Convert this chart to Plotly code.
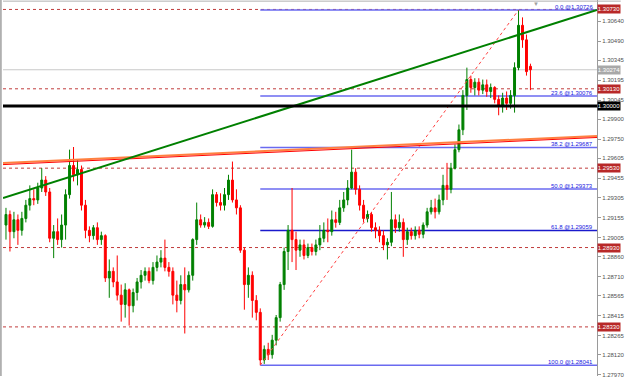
import plotly.graph_objects as go

# ---------------- data ----------------
opens = [1.2910, 1.2918, 1.2905, 1.2914, 1.2906, 1.2915, 1.2925, 1.2930, 1.2929, 1.2938,
         1.2944, 1.2935, 1.2900, 1.2905, 1.2899, 1.2910, 1.2933, 1.2955, 1.2948, 1.2952,
         1.2925, 1.2906, 1.2902, 1.2908, 1.2899, 1.2902, 1.2870, 1.2875, 1.2867, 1.2857,
         1.2850, 1.2861, 1.2849, 1.2859, 1.2867, 1.2872, 1.2875, 1.2868, 1.2878, 1.2882,
         1.2885, 1.2878, 1.2875, 1.2857, 1.2853, 1.2865, 1.2861, 1.2872, 1.2899, 1.2914,
         1.2910, 1.2912, 1.2909, 1.2933, 1.2927, 1.2925, 1.2933, 1.2944, 1.2929, 1.2923,
         1.2891, 1.2865, 1.2872, 1.2853, 1.2844, 1.2808, 1.2816, 1.2812, 1.2823, 1.2840,
         1.2865, 1.2890, 1.2906, 1.2899, 1.2891, 1.2895, 1.2887, 1.2893, 1.2890, 1.2895,
         1.2900, 1.2906, 1.2905, 1.2914, 1.2912, 1.2923, 1.2929, 1.2938, 1.2950, 1.2937,
         1.2925, 1.2915, 1.2918, 1.2908, 1.2906, 1.2902, 1.2895, 1.2897, 1.2914, 1.2908,
         1.2912, 1.2899, 1.2905, 1.2902, 1.2906, 1.2903, 1.2910, 1.2920, 1.2923, 1.2920,
         1.2929, 1.2940, 1.2937, 1.2953, 1.2967, 1.2982, 1.3008, 1.3020, 1.3014, 1.3018,
         1.3012, 1.3016, 1.3011, 1.3014, 1.3005, 1.3000, 1.3006, 1.3002, 1.3008, 1.3029,
         1.3061, 1.3050, 1.3030]

highs = [1.2923, 1.2921, 1.2920, 1.2918, 1.2920, 1.2929, 1.2940, 1.2937, 1.2942, 1.2953,
         1.2947, 1.2938, 1.2910, 1.2915, 1.2918, 1.2937, 1.2967, 1.2969, 1.2959, 1.2955,
         1.2929, 1.2909, 1.2910, 1.2912, 1.2905, 1.2903, 1.2884, 1.2878, 1.2887, 1.2865,
         1.2866, 1.2862, 1.2862, 1.2870, 1.2876, 1.2878, 1.2878, 1.2882, 1.2887, 1.2891,
         1.2899, 1.2882, 1.2878, 1.2868, 1.2872, 1.2878, 1.2875, 1.2900, 1.2927, 1.2918,
         1.2916, 1.2915, 1.2937, 1.2935, 1.2934, 1.2938, 1.2948, 1.2958, 1.2937, 1.2925,
         1.2893, 1.2878, 1.2875, 1.2857, 1.2847, 1.2819, 1.2821, 1.2827, 1.2842, 1.2867,
         1.2893, 1.2910, 1.2938, 1.2905, 1.2899, 1.2899, 1.2896, 1.2896, 1.2899, 1.2910,
         1.2912, 1.2915, 1.2921, 1.2920, 1.2929, 1.2935, 1.2944, 1.2967, 1.2953, 1.2940,
         1.2929, 1.2921, 1.2920, 1.2912, 1.2909, 1.2906, 1.2900, 1.2935, 1.2918, 1.2918,
         1.2915, 1.2908, 1.2908, 1.2909, 1.2909, 1.2912, 1.2923, 1.2929, 1.2930, 1.2933,
         1.2948, 1.2957, 1.2957, 1.2971, 1.2986, 1.3012, 1.3029, 1.3023, 1.3021, 1.3021,
         1.3020, 1.3020, 1.3017, 1.3015, 1.3008, 1.3010, 1.3011, 1.3012, 1.3033, 1.30726,
         1.3067, 1.3054, 1.3032]

lows = [1.2899, 1.2890, 1.2900, 1.2895, 1.2902, 1.2912, 1.2921, 1.2925, 1.2926, 1.2935,
        1.2932, 1.2897, 1.2885, 1.2895, 1.2893, 1.2899, 1.2930, 1.2943, 1.2940, 1.2921,
        1.2900, 1.2897, 1.2899, 1.2895, 1.2895, 1.2867, 1.2855, 1.2863, 1.2853, 1.2837,
        1.2840, 1.2834, 1.2844, 1.2853, 1.2862, 1.2868, 1.2866, 1.2865, 1.2875, 1.2878,
        1.2875, 1.2871, 1.2850, 1.2844, 1.2850, 1.2828, 1.2859, 1.2868, 1.2895, 1.2908,
        1.2908, 1.2907, 1.2908, 1.2924, 1.2921, 1.2921, 1.2929, 1.2927, 1.2918, 1.2889,
        1.2846, 1.2855, 1.2840, 1.2838, 1.28041, 1.2805, 1.2808, 1.2809, 1.2819, 1.2837,
        1.2861, 1.2876, 1.2882, 1.2876, 1.2886, 1.2884, 1.2885, 1.2887, 1.2887, 1.2891,
        1.2897, 1.2897, 1.2902, 1.2908, 1.2910, 1.2920, 1.2925, 1.2937, 1.2933, 1.2921,
        1.2912, 1.2912, 1.2905, 1.2900, 1.2897, 1.2891, 1.2884, 1.2894, 1.2904, 1.2905,
        1.2886, 1.2895, 1.2899, 1.2899, 1.2900, 1.2900, 1.2908, 1.2918, 1.2915, 1.2918,
        1.2925, 1.2929, 1.2934, 1.2952, 1.2965, 1.2978, 1.2997, 1.3010, 1.3008, 1.3008,
        1.3009, 1.3007, 1.3006, 1.3002, 1.2993, 1.2995, 1.2997, 1.2998, 1.2995, 1.3027,
        1.3044, 1.3023, 1.3012]

closes = [1.2918, 1.2905, 1.2914, 1.2906, 1.2915, 1.2925, 1.2930, 1.2929, 1.2938, 1.2944,
          1.2935, 1.2900, 1.2905, 1.2899, 1.2910, 1.2933, 1.2955, 1.2948, 1.2952, 1.2925,
          1.2906, 1.2902, 1.2908, 1.2899, 1.2902, 1.2870, 1.2875, 1.2867, 1.2857, 1.2850,
          1.2861, 1.2849, 1.2859, 1.2867, 1.2872, 1.2875, 1.2868, 1.2878, 1.2882, 1.2885,
          1.2878, 1.2875, 1.2857, 1.2853, 1.2865, 1.2861, 1.2872, 1.2899, 1.2914, 1.2910,
          1.2912, 1.2909, 1.2933, 1.2927, 1.2925, 1.2933, 1.2944, 1.2929, 1.2923, 1.2891,
          1.2865, 1.2872, 1.2853, 1.2844, 1.2808, 1.2816, 1.2812, 1.2823, 1.2840, 1.2865,
          1.2890, 1.2906, 1.2899, 1.2891, 1.2895, 1.2887, 1.2893, 1.2890, 1.2895, 1.2900,
          1.2906, 1.2905, 1.2914, 1.2912, 1.2923, 1.2929, 1.2938, 1.2950, 1.2937, 1.2925,
          1.2915, 1.2918, 1.2908, 1.2906, 1.2902, 1.2895, 1.2897, 1.2914, 1.2908, 1.2912,
          1.2899, 1.2905, 1.2902, 1.2906, 1.2903, 1.2910, 1.2920, 1.2923, 1.2920, 1.2929,
          1.2940, 1.2937, 1.2953, 1.2967, 1.2982, 1.3008, 1.3020, 1.3014, 1.3018, 1.3012,
          1.3016, 1.3011, 1.3014, 1.3005, 1.3000, 1.3006, 1.3002, 1.3008, 1.3029, 1.3061,
          1.3050, 1.3026, 1.30274]

bars = list(range(len(opens)))

# axis tick labels
tick_values = [1.30640, 1.30490, 1.30345, 1.30195, 1.30045, 1.29900, 1.29750, 1.29605,
               1.29455, 1.29305, 1.29155, 1.29005, 1.28860, 1.28710, 1.28565, 1.28415,
               1.28265, 1.28120, 1.27970]
tick_labels = ["%.5f" % v for v in tick_values]

# horizontal levels (red dotted)
red_levels = [1.30730, 1.30130, 1.29530, 1.28930, 1.28330]
bid_level = 1.30274
round_level = 1.30000

# Fibonacci retracement (from low bar to high bar)
fib_start_bar = 64
fib_end_bar = 129
fib_low = 1.28041
fib_high = 1.30726
fib_names = ["0.0", "23.6", "38.2", "50.0", "61.8", "100.0"]
fib_prices = [1.30726, 1.30076, 1.29687, 1.29373, 1.29059, 1.28041]

# trend lines (bar, price)
green_trend_x = [-0.75, 148.75]
green_trend_y = [1.29304, 1.30726]
orange_trend_x = [-0.75, 148.75]
orange_trend_y = [1.29569, 1.29774]
red_trend_y = [1.29557, 1.29762]

x_range = [-0.75, 148.75]
y_range = [1.279588, 1.308014]

# ---------------- figure ----------------
fig = go.Figure()

# horizontal lines (below candles)
for lv in red_levels:
    fig.add_shape(type="line", xref="paper", x0=0, x1=1, y0=lv, y1=lv,
                  line=dict(color="#c03c3c", width=1, dash="dot"), layer="below")
fig.add_shape(type="line", xref="paper", x0=0, x1=1, y0=bid_level, y1=bid_level,
              line=dict(color="#c8c8c8", width=1), layer="below")

# fibo horizontal lines
for name, pr in zip(fib_names, fib_prices):
    col = "#1a1acc" if name == "61.8" else "#6a6af0"
    fig.add_shape(type="line", x0=fib_start_bar, x1=x_range[1], y0=pr, y1=pr,
                  line=dict(color=col, width=1.5), layer="below")
    fig.add_annotation(x=x_range[1], y=pr, xref="x", yref="y", text=name + " @" + "%.5f" % pr,
                       showarrow=False, xanchor="right", yanchor="bottom", xshift=-2, yshift=-2,
                       font=dict(family="Liberation Sans", size=6, color="#2020e0"))

# candles
fig.add_trace(go.Candlestick(
    x=bars, open=opens, high=highs, low=lows, close=closes,
    increasing=dict(line=dict(color="#008000", width=1), fillcolor="#008000"),
    decreasing=dict(line=dict(color="#ff0000", width=1), fillcolor="#ff0000"),
    whiskerwidth=0, showlegend=False, hoverinfo="skip"))

# black round-number line
fig.add_shape(type="line", xref="paper", x0=0, x1=1, y0=round_level, y1=round_level,
              line=dict(color="#000000", width=3))

# fib diagonal
fig.add_trace(go.Scatter(x=[fib_start_bar, fib_end_bar], y=[fib_low, fib_high], mode="lines",
                         line=dict(color="#ff4040", width=1, dash="dot"),
                         showlegend=False, hoverinfo="skip"))
# trend lines
fig.add_trace(go.Scatter(x=orange_trend_x, y=orange_trend_y, mode="lines",
                         line=dict(color="#ff8040", width=2), showlegend=False, hoverinfo="skip"))
fig.add_trace(go.Scatter(x=orange_trend_x, y=red_trend_y, mode="lines",
                         line=dict(color="#ff0000", width=1), showlegend=False, hoverinfo="skip"))
fig.add_trace(go.Scatter(x=green_trend_x, y=green_trend_y, mode="lines",
                         line=dict(color="#008000", width=2), showlegend=False, hoverinfo="skip"))

# highlighted price labels on the axis
badges = [(v, "#b82828") for v in red_levels] + [(bid_level, "#a8a8a8"), (round_level, "#000000")]
for v, bg in badges:
    fig.add_annotation(x=1, y=v, xref="paper", yref="y", text="%.5f" % v, showarrow=False,
                       xanchor="left", yanchor="middle", bgcolor=bg, width=22, height=8,
                       borderpad=0, font=dict(family="Liberation Sans", size=6, color="#ffffff"))

# window borders
fig.add_shape(type="line", xref="paper", yref="paper", x0=-0.0035, x1=-0.0035, y0=0, y1=1,
              line=dict(color="#a0a0a0", width=1.5))
fig.add_shape(type="line", xref="paper", yref="paper", x0=0, x1=1.04, y0=0.997, y1=0.997,
              line=dict(color="#b0b0b0", width=1))
fig.add_annotation(x=133.5, y=1.30771, xref="x", yref="y", text="▼", showarrow=False,
                   font=dict(size=6, color="#a0a0a0"))

fig.update_layout(
    width=625, height=378,
    margin=dict(l=3, r=24, t=0, b=2),
    paper_bgcolor="#ffffff", plot_bgcolor="#ffffff",
    showlegend=False,
    xaxis=dict(range=x_range, visible=False, rangeslider=dict(visible=False),
               showgrid=False, zeroline=False),
    yaxis=dict(range=y_range, side="right", tickvals=tick_values, ticktext=tick_labels,
               showgrid=False, zeroline=False, showline=True, linecolor="#9a9a9a", linewidth=1,
               ticks="outside", ticklen=3, tickcolor="#9a9a9a",
               tickfont=dict(family="Liberation Sans", size=6, color="#505050")),
)

fig.write_html("out.html")
